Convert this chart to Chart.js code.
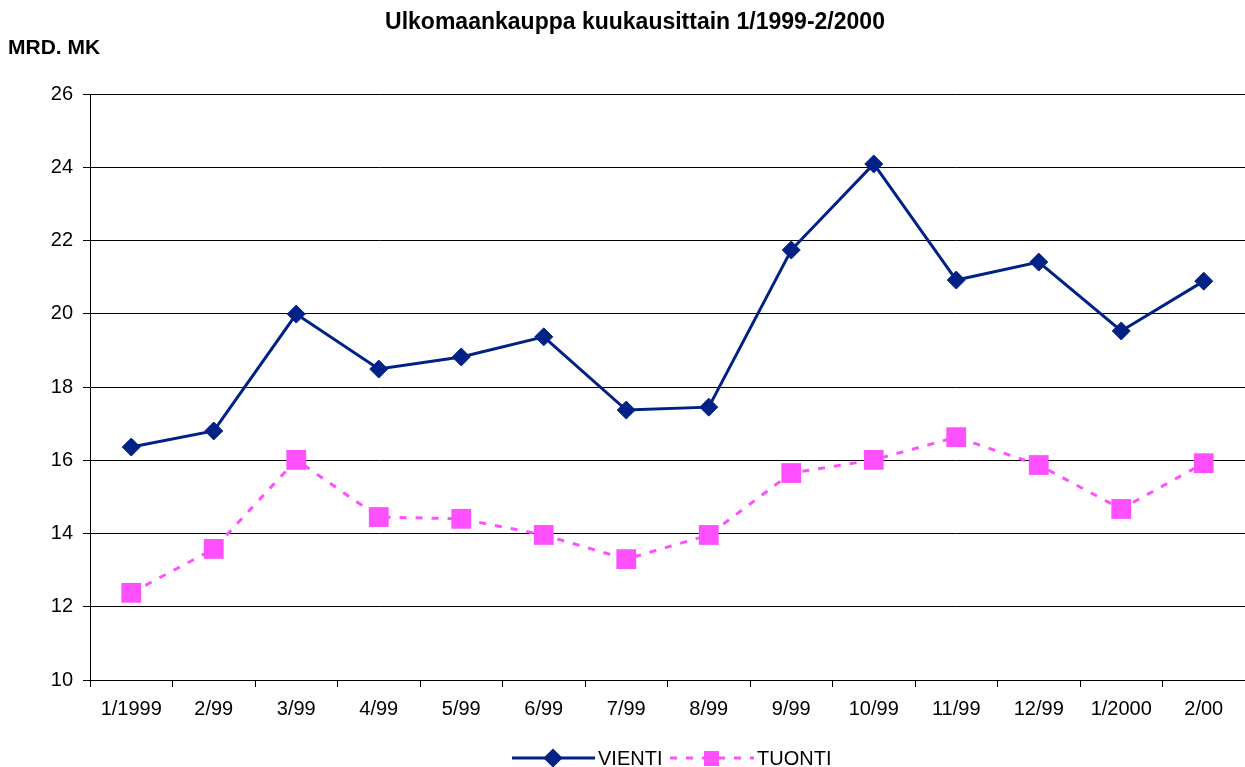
<!DOCTYPE html>
<html>
<head>
<meta charset="utf-8">
<script src="https://cdn.jsdelivr.net/npm/chart.js@4/dist/chart.umd.min.js"></script>
<style>
  html, body { margin: 0; padding: 0; background: #fff; }
  #wrap { width: 1245px; height: 767px; }
</style>
</head>
<body>
<div id="wrap"><canvas id="c"></canvas></div>
<script>
// data
var kuukaudet = ['1/1999', '2/99', '3/99', '4/99', '5/99', '6/99', '7/99', '8/99', '9/99', '10/99', '11/99', '12/99', '1/2000', '2/00'];
var vienti = [16.36, 16.80, 19.99, 18.49, 18.82, 19.37, 17.37, 17.45, 21.74, 24.09, 20.92, 21.41, 19.53, 20.89];
var tuonti = [12.38, 13.58, 16.01, 14.45, 14.40, 13.96, 13.30, 13.96, 15.65, 16.01, 16.63, 15.87, 14.67, 15.92];
var otsikko = 'Ulkomaankauppa kuukausittain 1/1999-2/2000';
var yksikko = 'MRD. MK';

var navy = '#002186';
var pinkki = '#ff50ff';
var fontti = '"Liberation Sans", Arial, sans-serif';

// title, unit label and the excel style legend
var tekstit = {
    id: 'tekstit',
    afterDraw: function(chart) {
        var ctx = chart.ctx;
        ctx.save();
        ctx.fillStyle = '#000';
        ctx.textBaseline = 'middle';
        ctx.font = 'bold 23px ' + fontti;
        ctx.textAlign = 'center';
        ctx.fillText(otsikko, 635, 23);
        ctx.font = 'bold 21px ' + fontti;
        ctx.textAlign = 'left';
        ctx.fillText(yksikko, 8, 48);

        // legend
        var ly = 758;
        ctx.font = '20px ' + fontti;
        // VIENTI
        ctx.strokeStyle = navy;
        ctx.lineWidth = 3;
        ctx.beginPath(); ctx.moveTo(512, ly); ctx.lineTo(595, ly); ctx.stroke();
        Chart.helpers.drawPoint(ctx, {pointStyle: 'rectRot', radius: 7.5, borderWidth: 1}, 553, ly);
        ctx.fillStyle = navy; ctx.fill();
        ctx.fillStyle = '#000';
        ctx.fillText('VIENTI', 598, ly + 1);
        // TUONTI
        ctx.strokeStyle = pinkki;
        ctx.lineWidth = 3;
        ctx.setLineDash([7, 9]);
        ctx.beginPath(); ctx.moveTo(670, ly); ctx.lineTo(754, ly); ctx.stroke();
        ctx.setLineDash([]);
        ctx.fillStyle = pinkki;
        ctx.fillRect(704, ly - 7, 15, 15);
        ctx.fillStyle = '#000';
        ctx.fillText('TUONTI', 757, ly + 1);
        ctx.restore();
    }
};

var ctx = document.getElementById('c').getContext('2d');
var kaavio = new Chart(ctx, {
    type: 'line',
    data: {
        labels: kuukaudet,
        datasets: [{
            label: 'VIENTI',
            data: vienti,
            borderColor: navy,
            backgroundColor: navy,
            borderWidth: 3,
            pointStyle: 'rectRot',
            pointRadius: 9,
            pointBorderWidth: 1,
            tension: 0,
            clip: 20
        }, {
            label: 'TUONTI',
            data: tuonti,
            borderColor: pinkki,
            backgroundColor: pinkki,
            borderWidth: 3,
            borderDash: [7, 9],
            pointStyle: 'rect',
            pointRadius: 14,
            pointBorderWidth: 0,
            tension: 0,
            clip: 20
        }]
    },
    options: {
        responsive: true,
        maintainAspectRatio: false,
        animation: false,
        layout: { autoPadding: false, padding: { top: 94, right: 0, bottom: 0, left: 0 } },
        plugins: {
            legend: { display: false },
            title: { display: false },
            tooltip: { enabled: false }
        },
        scales: {
            x: {
                offset: true,
                grid: { display: true, drawOnChartArea: false, drawTicks: true, tickLength: 7, offset: true, color: '#000' },
                border: { display: true, color: '#000', width: 1 },
                ticks: { color: '#000', font: { family: fontti, size: 20 }, padding: 10, maxRotation: 0, autoSkip: false },
                afterFit: function(scale) {
                    scale.height = 87;
                    scale.paddingLeft = 0;
                    scale.paddingRight = 0;
                }
            },
            y: {
                min: 10,
                max: 26,
                grid: { color: '#000', lineWidth: 1, tickLength: 7 },
                border: { display: true, color: '#000', width: 1 },
                ticks: { stepSize: 2, color: '#000', font: { family: fontti, size: 20 }, padding: 10 },
                afterFit: function(scale) {
                    scale.width = 90;
                    scale.paddingTop = 0;
                    scale.paddingBottom = 0;
                }
            }
        }
    },
    plugins: [tekstit]
});
</script>
</body>
</html>
